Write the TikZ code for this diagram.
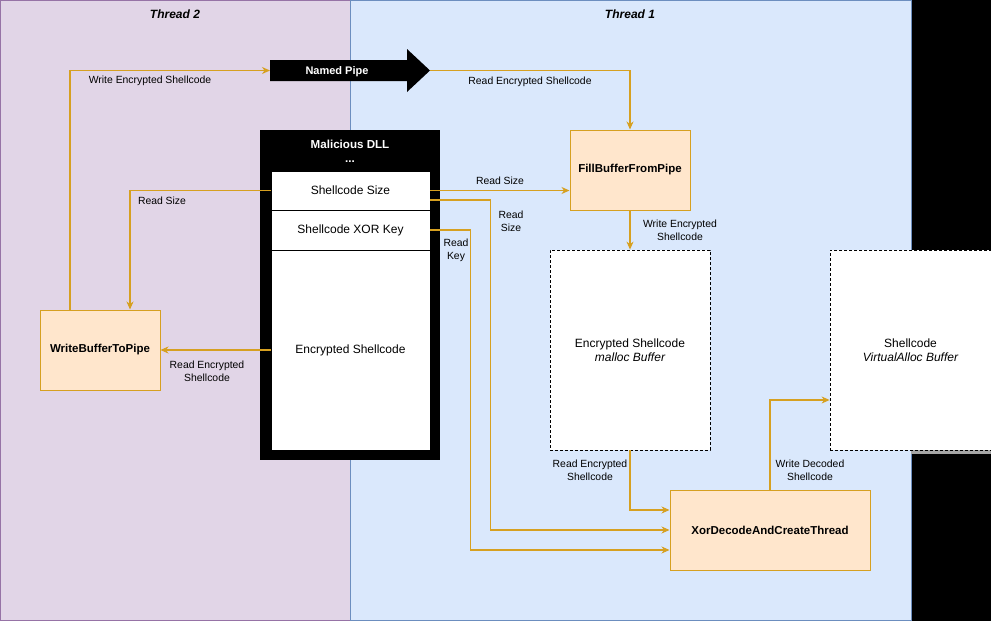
\documentclass[tikz,border=0pt]{standalone}
\usepackage{fontspec}
\setmainfont{Liberation Sans}
\usetikzlibrary{arrows.meta}
\definecolor{purplefill}{HTML}{E1D5E7}
\definecolor{purpleline}{HTML}{9673A6}
\definecolor{bluefill}{HTML}{DAE8FC}
\definecolor{blueline}{HTML}{6C8EBF}
\definecolor{orfill}{HTML}{FFE6CC}
\definecolor{orline}{HTML}{D6A021}
\tikzset{
  region/.style={draw, line width=1pt, inner sep=0pt, minimum width=#1},
  func/.style={draw=orline, fill=orfill, line width=1pt, inner sep=0pt,
    minimum width=120pt, minimum height=80pt, font=\fontsize{11.5}{13}\selectfont\bfseries},
  buf/.style={draw=black, fill=white, line width=0.8pt, dash pattern=on 3pt off 2pt,
    inner sep=0pt, minimum height=200pt, align=center, font=\fontsize{12}{14}\selectfont},
  cell/.style={draw=black, fill=white, line width=0.8pt, inner sep=0pt,
    minimum width=159pt, font=\fontsize{12}{14}\selectfont},
  conn/.style={draw=orline, line width=1.1pt, -{Stealth[length=8pt,width=7pt,inset=2.5pt]}},
  lbl/.style={font=\fontsize{10.4}{13}\selectfont, align=center, inner sep=0pt},
  title/.style={font=\fontsize{12}{14}\selectfont\bfseries\itshape, inner sep=0pt}
}
\begin{document}
\begin{tikzpicture}[x=1pt,y=-1pt]
\useasboundingbox (0,0) rectangle (991,621);
\fill[black] (0,0) rectangle (991,621);
% regions
\node[region=350pt, fill=purplefill, draw=purpleline, minimum height=620pt] (t2) at (175,310.5) {};
\node[region=561pt, fill=bluefill, draw=blueline, minimum height=620pt] (t1) at (630.5,310.5) {};
\node[title] (t2title) at (175,14) {Thread 2};
\node[title] (t1title) at (630,14) {Thread 1};
% named pipe
\coordinate (pipeL) at (270,70.5);
\coordinate (pipeR) at (430,70.5);
\fill[black] (pipeL |- 0,60) -- (407,60) -- (407,49) -- (pipeR) -- (407,92) -- (407,81) -- (pipeL |- 0,81) -- cycle;
\node[font=\fontsize{11}{13}\selectfont\bfseries, text=white, inner sep=0pt] (pipe) at (337,71.5) {Named Pipe};
% malicious dll
\node[fill=black, inner sep=0pt, minimum width=180pt, minimum height=330pt] (dll) at (350,295) {};
\node[font=\fontsize{11.6}{14}\selectfont\bfseries, text=white, align=center, inner sep=0pt] (dlltitle) at (350,151) {Malicious DLL\\...};
\node[cell, minimum height=39pt] (size) at (350.5,190.5) {Shellcode Size};
\node[cell, minimum height=40pt] (key) at (350.5,230) {Shellcode XOR Key};
\node[cell, minimum height=200pt] (enc) at (350.5,350) {Encrypted Shellcode};
% functions
\node[func] (fill) at (630,170) {FillBufferFromPipe};
\node[func] (wbp) at (100,350) {WriteBufferToPipe};
\node[func, minimum width=200pt] (xor) at (770,530) {XorDecodeAndCreateThread};
% buffers
\fill[gray!70] (911,450) rectangle (991,454);
\node[buf, minimum width=160pt] (mbuf) at (630,350) {Encrypted Shellcode\\\itshape malloc Buffer};
\node[buf, minimum width=161pt] (vbuf) at (910.5,350) {Shellcode\\\itshape VirtualAlloc Buffer};
% connectors
\draw[conn] ([xshift=-30pt]wbp.north) |- (pipeL);
\draw[conn] (pipeR) -| (fill.north);
\draw[conn] (size.east) -- (size.east -| fill.west);
\draw[conn] (size.west) -| ([xshift=30pt]wbp.north);
\draw[conn] (enc.west) -- (wbp.east);
\draw[conn] (fill.south) -- (mbuf.north);
\draw[conn] ([yshift=-9.5pt]size.east) -- ++(60,0) |- (xor.west);
\draw[conn] (key.east) -- ++(40,0) |- ([yshift=-20pt]xor.west);
\draw[conn] (mbuf.south) |- ([yshift=20pt]xor.west);
\draw[conn] (xor.north) |- ([yshift=-50pt]vbuf.west);
% labels
\node[lbl] (l1) at (150,81) {Write Encrypted Shellcode};
\node[lbl] (l2) at (530,82) {Read Encrypted Shellcode};
\node[lbl] (l3) at (500,181) {Read Size};
\node[lbl] (l4) at (162,201) {Read Size};
\node[lbl] (l5) at (207,371) {Read Encrypted\\Shellcode};
\node[lbl] (l6) at (680,230) {Write Encrypted\\Shellcode};
\node[lbl] (l7) at (511,221) {Read\\Size};
\node[lbl] (l8) at (456,250) {Read\\Key};
\node[lbl] (l9) at (590,470) {Read Encrypted\\Shellcode};
\node[lbl] (l10) at (810,470) {Write Decoded\\Shellcode};
\end{tikzpicture}
\end{document}
